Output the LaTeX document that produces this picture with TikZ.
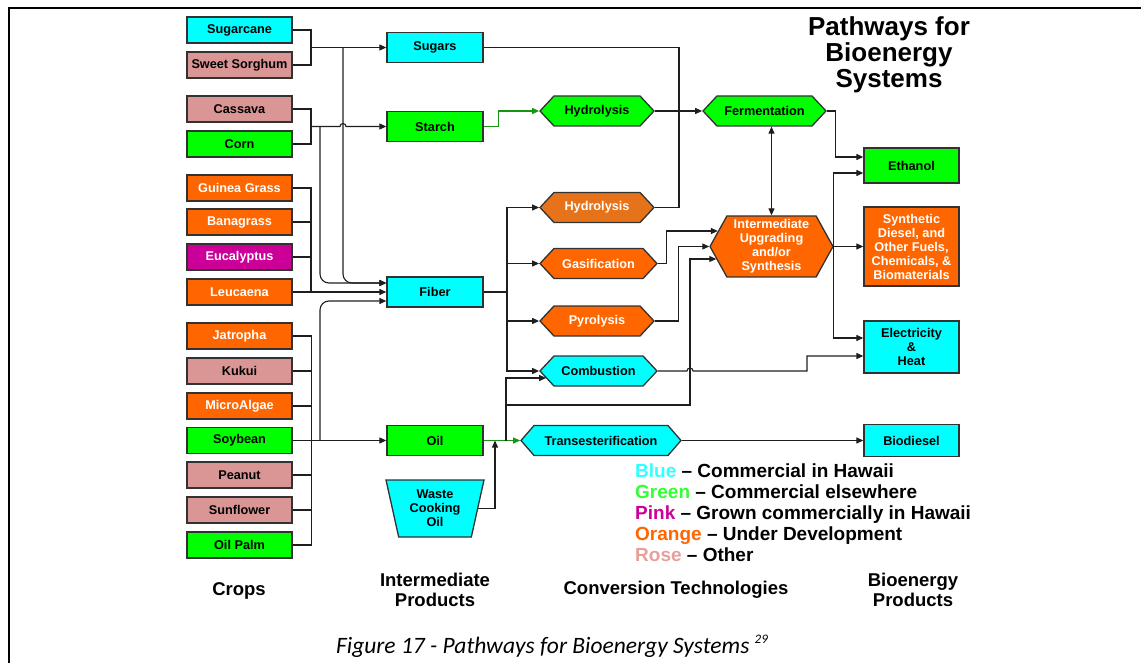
\documentclass[tikz,border=0pt]{standalone}
\usepackage{fontspec}
\setmainfont{Liberation Sans}
\newfontfamily\capfont{Carlito}
\usetikzlibrary{arrows.meta,shapes.symbols,shapes.geometric,calc}
\definecolor{cy}{RGB}{0,255,255}
\definecolor{gr}{RGB}{0,255,0}
\definecolor{ro}{RGB}{217,150,148}
\definecolor{orn}{RGB}{255,102,0}
\definecolor{pk}{RGB}{204,0,153}
\definecolor{hy}{RGB}{230,115,25}
\definecolor{bd}{RGB}{50,50,50}
\definecolor{ln}{RGB}{30,30,30}
\definecolor{gl}{RGB}{20,150,20}
\definecolor{lcy}{RGB}{51,255,255}
\definecolor{lgr}{RGB}{51,255,51}
\definecolor{lro}{RGB}{230,160,155}
\begin{document}
\begin{tikzpicture}[x=1pt,y=-1pt,
  lbl/.style={font=\bfseries\fontsize{12.7}{14}\selectfont, align=center},
  box/.style={lbl, draw=bd, line width=1.3pt, minimum width=105pt, minimum height=26pt, inner sep=0pt},
  mid/.style={box, minimum width=96pt, minimum height=30pt},
  prod/.style={box, minimum width=95pt},
  hexa/.style={lbl, shape=signal, signal to=west and east, signal pointer angle=94, draw=bd, line width=1.3pt, minimum height=30pt, inner sep=0pt},
  wt/.style={text=white},
  conn/.style={draw=ln, line width=1.1pt},
  arr/.style={conn, -{Triangle[length=7pt,width=6pt]}},
  arr2/.style={conn, {Triangle[length=7pt,width=6pt]}-{Triangle[length=7pt,width=6pt]}},
  garr/.style={draw=gl, line width=1.1pt, -{Triangle[length=7pt,width=6pt]}},
  leg/.style={anchor=base west, font=\bfseries\fontsize{19}{21}\selectfont, inner sep=0pt},
  foot/.style={font=\bfseries\fontsize{18.5}{20.5}\selectfont, align=center, inner sep=0pt},
  ttl/.style={anchor=base, font=\bfseries\fontsize{26}{26}\selectfont, inner sep=0pt}
]
\useasboundingbox (0,0) rectangle (1141,663);
\draw[line width=2.2pt] (9,663) -- (9,8) -- (1141,8);

% crops
\node[box, fill=cy] (sugarcane) at (239.5,30) {Sugarcane};
\node[box, fill=ro] (sorghum) at (239.5,65) {Sweet Sorghum};
\node[box, fill=ro] (cassava) at (239.5,109) {Cassava};
\node[box, fill=gr] (corn) at (239.5,144) {Corn};
\node[box, fill=orn, wt] (guinea) at (239.5,188) {Guinea Grass};
\node[box, fill=orn, wt] (banagrass) at (239.5,222) {Banagrass};
\node[box, fill=pk, wt] (eucalyptus) at (239.5,257) {Eucalyptus};
\node[box, fill=orn, wt] (leucaena) at (239.5,292) {Leucaena};
\node[box, fill=orn, wt] (jatropha) at (239.5,336) {Jatropha};
\node[box, fill=ro] (kukui) at (239.5,371) {Kukui};
\node[box, fill=orn, wt] (microalgae) at (239.5,406) {MicroAlgae};
\node[box, fill=gr] (soybean) at (239.5,440.5) {Soybean};
\node[box, fill=ro] (peanut) at (239.5,475) {Peanut};
\node[box, fill=ro] (sunflower) at (239.5,510) {Sunflower};
\node[box, fill=gr] (oilpalm) at (239.5,545) {Oil Palm};

% intermediate products
\node[mid, fill=cy] (sugars) at (435,47.5) {Sugars};
\node[mid, fill=gr] (starch) at (435,126.5) {Starch};
\node[mid, fill=cy] (fiber) at (435,292) {Fiber};
\node[mid, fill=gr] (oil) at (435,440.5) {Oil};
\node[lbl, trapezium, shape border rotate=180, trapezium stretches body,
  trapezium left angle=71, trapezium right angle=71, minimum width=98pt,
  minimum height=57pt, inner sep=0pt, fill=cy, draw=bd, line width=1.3pt] (wco) at (435,508.5) {Waste\\Cooking\\Oil};

% conversion technologies
\node[hexa, fill=gr, minimum width=114pt] (hyd1) at (597,111) {Hydrolysis};
\node[hexa, fill=hy, wt, minimum width=114pt] (hyd2) at (597,207.5) {Hydrolysis};
\node[hexa, fill=orn, wt, minimum width=117pt] (gas) at (598.5,263.5) {Gasification};
\node[hexa, fill=orn, wt, minimum width=114pt] (pyr) at (597,321) {Pyrolysis};
\node[hexa, fill=cy, minimum width=117pt] (comb) at (598.5,371) {Combustion};
\node[hexa, fill=cy, minimum width=160pt, signal pointer angle=98] (trans) at (601,440.5) {Transesterification};
\node[hexa, fill=gr, minimum width=123pt] (ferm) at (764.5,111) {Fermentation};
\node[hexa, fill=orn, wt, minimum width=123pt, minimum height=61pt, signal pointer angle=122] (inter) at (771.5,246.5) {Intermediate\\Upgrading\\and/or\\Synthesis};

% bioenergy products
\node[prod, fill=gr, minimum height=35pt] (ethanol) at (911.5,165.5) {Ethanol};
\node[prod, fill=orn, wt, minimum height=79pt] (synth) at (911.5,246.5) {Synthetic\\Diesel, and\\Other Fuels,\\Chemicals, \&\\Biomaterials};
\node[prod, fill=cy, minimum height=52pt] (elec) at (911.5,347) {Electricity\\\&\\Heat};
\node[prod, fill=cy, minimum height=32pt] (biodiesel) at (911.5,440.5) {Biodiesel};

% junctions
\coordinate (jA) at (311,47.5);
\coordinate (jB) at (311,126.5);
\coordinate (jC) at (311,292);
\coordinate (jE) at (679,111);
\coordinate (jF) at (507,292);
\coordinate (jG) at (506,440.5);
\coordinate (jH) at (506,405);
\coordinate (jW) at (495,440.5);
\coordinate (f1) at ($(fiber.west)+(0,-9)$);
\coordinate (f3) at ($(fiber.west)+(0,9)$);
\coordinate (c2) at ($(comb.west)+(7,7)$);
\coordinate (i1) at ($(inter.west)+(8.6,-15.5)$);
\coordinate (i3) at ($(inter.west)+(7,12.5)$);
\coordinate (e1) at ($(ethanol.west)+(0,-8.5)$);
\coordinate (e2) at ($(ethanol.west)+(0,7.5)$);
\coordinate (el1) at ($(elec.west)+(0,-9)$);
\coordinate (el2) at ($(elec.west)+(0,9)$);

% crops -> intermediate
\draw[conn] (sugarcane.east) -| (jA) |- (sorghum.east);
\draw[arr] (jA) -- (sugars.west);
\draw[conn] (cassava.east) -| (jB) |- (corn.east);
\draw[arr] (jB) -- (340,126.5) arc(180:360:3) -- (starch.west);
\draw[conn] (guinea.east) -| (jC);
\draw[conn] (banagrass.east) -- (banagrass.east -| jC);
\draw[conn] (eucalyptus.east) -- (eucalyptus.east -| jC);
\draw[arr] (leucaena.east) -- (fiber.west);
\draw[arr, rounded corners=9pt] (343,47.5) |- (f1);
\draw[arr, rounded corners=9pt] (320,126.5) |- (f1);
\draw[arr, rounded corners=9pt] (320,440.5) |- (f3);
\draw[conn] (jatropha.east) -- ++(19,0) |- (oilpalm.east);
\draw[conn] (kukui.east) -- ++(19,0);
\draw[conn] (microalgae.east) -- ++(19,0);
\draw[conn] (peanut.east) -- ++(19,0);
\draw[conn] (sunflower.east) -- ++(19,0);
\draw[arr] (soybean.east) -- (oil.west);
\draw[arr] (wco.east) -| (jW);

% intermediate -> conversion
\draw[garr] (starch.east) -- ++(15,0) |- (hyd1.west);
\draw[conn] (sugars.east) -| (jE);
\draw[conn] (hyd2.east) -| (jE);
\draw[arr] (hyd1.east) -- (ferm.west);
\draw[conn] (fiber.east) -- (jF);
\draw[arr] (jF) |- (hyd2.west);
\draw[arr] (jF) |- (gas.west);
\draw[arr] (jF) |- (pyr.west);
\draw[arr] (jF) |- (comb.west);
\draw[garr] (oil.east) -- (trans.west);
\draw[arr] (jG) |- (c2);
\draw[arr] (jH) -- (690,405) |- (i3);

% conversion -> upgrading / products
\draw[arr] (gas.east) -- ++(9,0) |- (i1);
\draw[arr] (pyr.east) -- ++(24,0) |- (inter.west);
\draw[arr2] (inter.north) -- (inter.north |- ferm.south);
\draw[arr] (ferm.east) -- ++(9,0) |- (e1);
\draw[arr] (inter.east) |- (e2);
\draw[arr] (inter.east) -- (synth.west);
\draw[arr] (inter.east) |- (el1);
\draw[arr] (comb.east) -- (687,371) arc(180:360:3) -- (807,371) |- (el2);
\draw[arr] (trans.east) -- (biodiesel.west);

% title
\node[ttl] (t1) at (889,36) {Pathways for};
\node[ttl] (t2) at (889,62) {Bioenergy};
\node[ttl] (t3) at (889,87.5) {Systems};

% legend
\node[leg] (l1) at (635,477) {\textcolor{lcy}{Blue} \textendash{} Commercial in Hawaii};
\node[leg] (l2) at (635,498) {\textcolor{lgr}{Green} \textendash{} Commercial elsewhere};
\node[leg] (l3) at (635,519) {\textcolor{pk}{Pink} \textendash{} Grown commercially in Hawaii};
\node[leg] (l4) at (635,540) {\textcolor{orn}{Orange} \textendash{} Under Development};
\node[leg] (l5) at (635,561) {\textcolor{lro}{Rose} \textendash{} Other};

% column labels
\node[foot] (fc) at (239,591) {Crops};
\node[foot] (fi) at (435,590) {Intermediate\\Products};
\node[foot] (ft) at (676,590) {Conversion Technologies};
\node[foot] (fb) at (913,590) {Bioenergy\\Products};

% caption
\node[anchor=base, inner sep=0pt, font=\capfont\itshape\fontsize{23.5}{25}\selectfont] (cap) at (552,653) {Figure 17 - Pathways for Bioenergy Systems \raisebox{10pt}{\fontsize{13}{13}\selectfont 29}};
\end{tikzpicture}
\end{document}
